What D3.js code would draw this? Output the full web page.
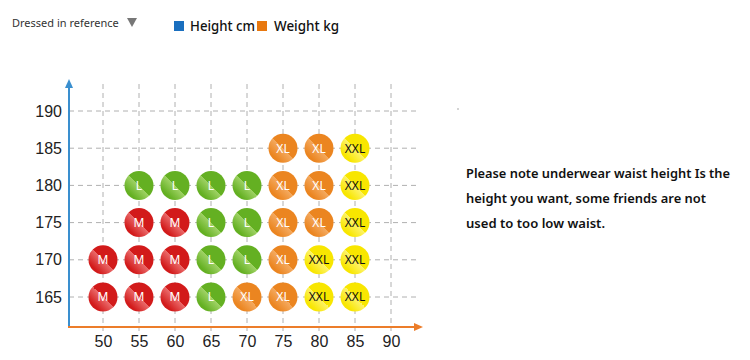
<!DOCTYPE html>
<html>
<head>
<meta charset="utf-8">
<script src="https://cdn.jsdelivr.net/npm/d3@7"></script>
<style>
  body { margin: 0; background: #fff; }
  svg { display: block; font-family: "Noto Sans", "Open Sans", sans-serif; }
</style>
</head>
<body>
<svg id="chart" width="750" height="360"></svg>
<script>
// weight (kg) on x, height (cm) on y
var weightTicks = [50, 55, 60, 65, 70, 75, 80, 85, 90];
var heightTicks = [165, 170, 175, 180, 185, 190];

// size chart, one row per height
var row185 = [[75, "XL"], [80, "XL"], [85, "XXL"]];
var row180 = [[55, "L"], [60, "L"], [65, "L"], [70, "L"], [75, "XL"], [80, "XL"], [85, "XXL"]];
var row175 = [[55, "M"], [60, "M"], [65, "L"], [70, "L"], [75, "XL"], [80, "XL"], [85, "XXL"]];
var row170 = [[50, "M"], [55, "M"], [60, "M"], [65, "L"], [70, "L"], [75, "XL"], [80, "XXL"], [85, "XXL"]];
var row165 = [[50, "M"], [55, "M"], [60, "M"], [65, "L"], [70, "XL"], [75, "XL"], [80, "XXL"], [85, "XXL"]];

var sizes = ["M", "L", "XL", "XXL"];
var sizeColors = ["#d21a1a", "#64b022", "#eb8520", "#f8e600"];
var sizeLight = ["#ea6a6a", "#9fd265", "#f4aa60", "#fdf36a"];

var noteLines = [
  "Please note underwear waist height Is the",
  "height you want, some friends are not",
  "used to too low waist."
];
var noteWidths = [264, 240, 139];

var cells = [];
[[185, row185], [180, row180], [175, row175], [170, row170], [165, row165]].forEach(function(r) {
  r[1].forEach(function(c) { cells.push({ h: r[0], w: c[0], size: c[1] }); });
});

var svg = d3.select("#chart");

var x = d3.scaleLinear().domain([50, 90]).range([103, 391]);
var y = d3.scaleLinear().domain([165, 190]).range([297, 111]);
var color = d3.scaleOrdinal().domain(sizes).range(sizeColors);
var light = d3.scaleOrdinal().domain(sizes).range(sizeLight);

var axisX0 = 69, axisY0 = 327;

// gradients for the shiny badges (lighter lower-left half)
var defs = svg.append("defs");
sizes.forEach(function(s) {
  var g = defs.append("linearGradient")
    .attr("id", "grad-" + s)
    .attr("x1", "1").attr("y1", "0").attr("x2", "0").attr("y2", "1");
  g.append("stop").attr("offset", "0").attr("stop-color", color(s));
  g.append("stop").attr("offset", "0.5").attr("stop-color", color(s));
  g.append("stop").attr("offset", "0.5").attr("stop-color", light(s));
  g.append("stop").attr("offset", "0.8").attr("stop-color", color(s));
  g.append("stop").attr("offset", "1").attr("stop-color", color(s));
});

// grid
svg.append("g")
  .selectAll("line")
  .data(heightTicks)
  .enter()
  .append("line")
    .attr("x1", axisX0)
    .attr("x2", 420)
    .attr("y1", d => y(d))
    .attr("y2", d => y(d))
    .attr("stroke", "#b0b0b0")
    .attr("stroke-dasharray", "5,4");

svg.append("g")
  .selectAll("line")
  .data(weightTicks)
  .enter()
  .append("line")
    .attr("x1", d => x(d))
    .attr("x2", d => x(d))
    .attr("y1", 84)
    .attr("y2", axisY0 + 4)
    .attr("stroke", "#b0b0b0")
    .attr("stroke-dasharray", "5,4");

// axes
var yAxis = d3.axisLeft(y).tickValues(heightTicks).tickSize(0).tickPadding(7);
var gy = svg.append("g").attr("transform", "translate(" + axisX0 + ",0)").call(yAxis);
gy.select(".domain").remove();
gy.selectAll("text").attr("font-size", 16).attr("fill", "#222");

var xAxis = d3.axisBottom(x).tickValues(weightTicks).tickSize(0).tickPadding(9);
var gx = svg.append("g").attr("transform", "translate(0," + axisY0 + ")").call(xAxis);
gx.select(".domain").remove();
gx.selectAll("text").attr("font-size", 16).attr("fill", "#222");

svg.append("line")
  .attr("x1", axisX0).attr("x2", axisX0)
  .attr("y1", axisY0).attr("y2", 86)
  .attr("stroke", "#3a8fcf").attr("stroke-width", 2);
svg.append("path")
  .attr("d", "M" + axisX0 + ",79 L" + (axisX0 - 4) + ",88 L" + (axisX0 + 4) + ",88 Z")
  .attr("fill", "#3a8fcf");

svg.append("line")
  .attr("x1", axisX0 - 1).attr("x2", 416)
  .attr("y1", axisY0).attr("y2", axisY0)
  .attr("stroke", "#ec7d2a").attr("stroke-width", 2);
svg.append("path")
  .attr("d", "M423," + axisY0 + " L414," + (axisY0 - 4) + " L414," + (axisY0 + 4) + " Z")
  .attr("fill", "#ec7d2a");

// badges
var badge = svg.append("g")
  .selectAll("g")
  .data(cells)
  .enter()
  .append("g")
    .attr("transform", d => "translate(" + x(d.w) + "," + y(d.h) + ")");

badge.append("circle")
  .attr("r", 14.5)
  .attr("fill", d => "url(#grad-" + d.size + ")");

badge.append("text")
  .attr("text-anchor", "middle")
  .attr("dy", "0.36em")
  .attr("font-size", 12)
  .attr("fill", d => d.size === "XXL" ? "#111" : "#fff")
  .text(d => d.size);

// header
svg.append("text")
  .attr("x", 12).attr("y", 27)
  .attr("font-size", 11).attr("fill", "#333")
  .text("Dressed in reference");
svg.append("path")
  .attr("d", "M127,18 L137,18 L132,27 Z")
  .attr("fill", "#777");

var legend = [
  { label: "Height cm", color: "#1a6fbf", x: 174, tx: 16 },
  { label: "Weight kg", color: "#e8780f", x: 257, tx: 17 }
];
var lg = svg.append("g")
  .selectAll("g")
  .data(legend)
  .enter()
  .append("g")
    .attr("transform", d => "translate(" + d.x + ",0)");
lg.append("text")
  .attr("x", d => d.tx).attr("y", 31)
  .attr("font-size", 15).attr("font-weight", 500).attr("fill", "#111")
  .attr("textLength", 65).attr("lengthAdjust", "spacingAndGlyphs")
  .text(d => d.label);
lg.append("rect")
  .attr("x", 0).attr("y", 21)
  .attr("width", 10).attr("height", 10)
  .attr("fill", d => d.color);

// note on the right
svg.append("circle").attr("cx", 458).attr("cy", 109).attr("r", 0.7).attr("fill", "#888");
svg.append("g")
  .selectAll("text")
  .data(noteLines)
  .enter()
  .append("text")
    .attr("x", 466)
    .attr("y", (d, i) => 178 + i * 25)
    .attr("font-size", 13)
    .attr("font-weight", 600)
    .attr("fill", "#111")
    .attr("textLength", (d, i) => noteWidths[i])
    .attr("lengthAdjust", "spacingAndGlyphs")
    .text(d => d);
</script>
</body>
</html>
